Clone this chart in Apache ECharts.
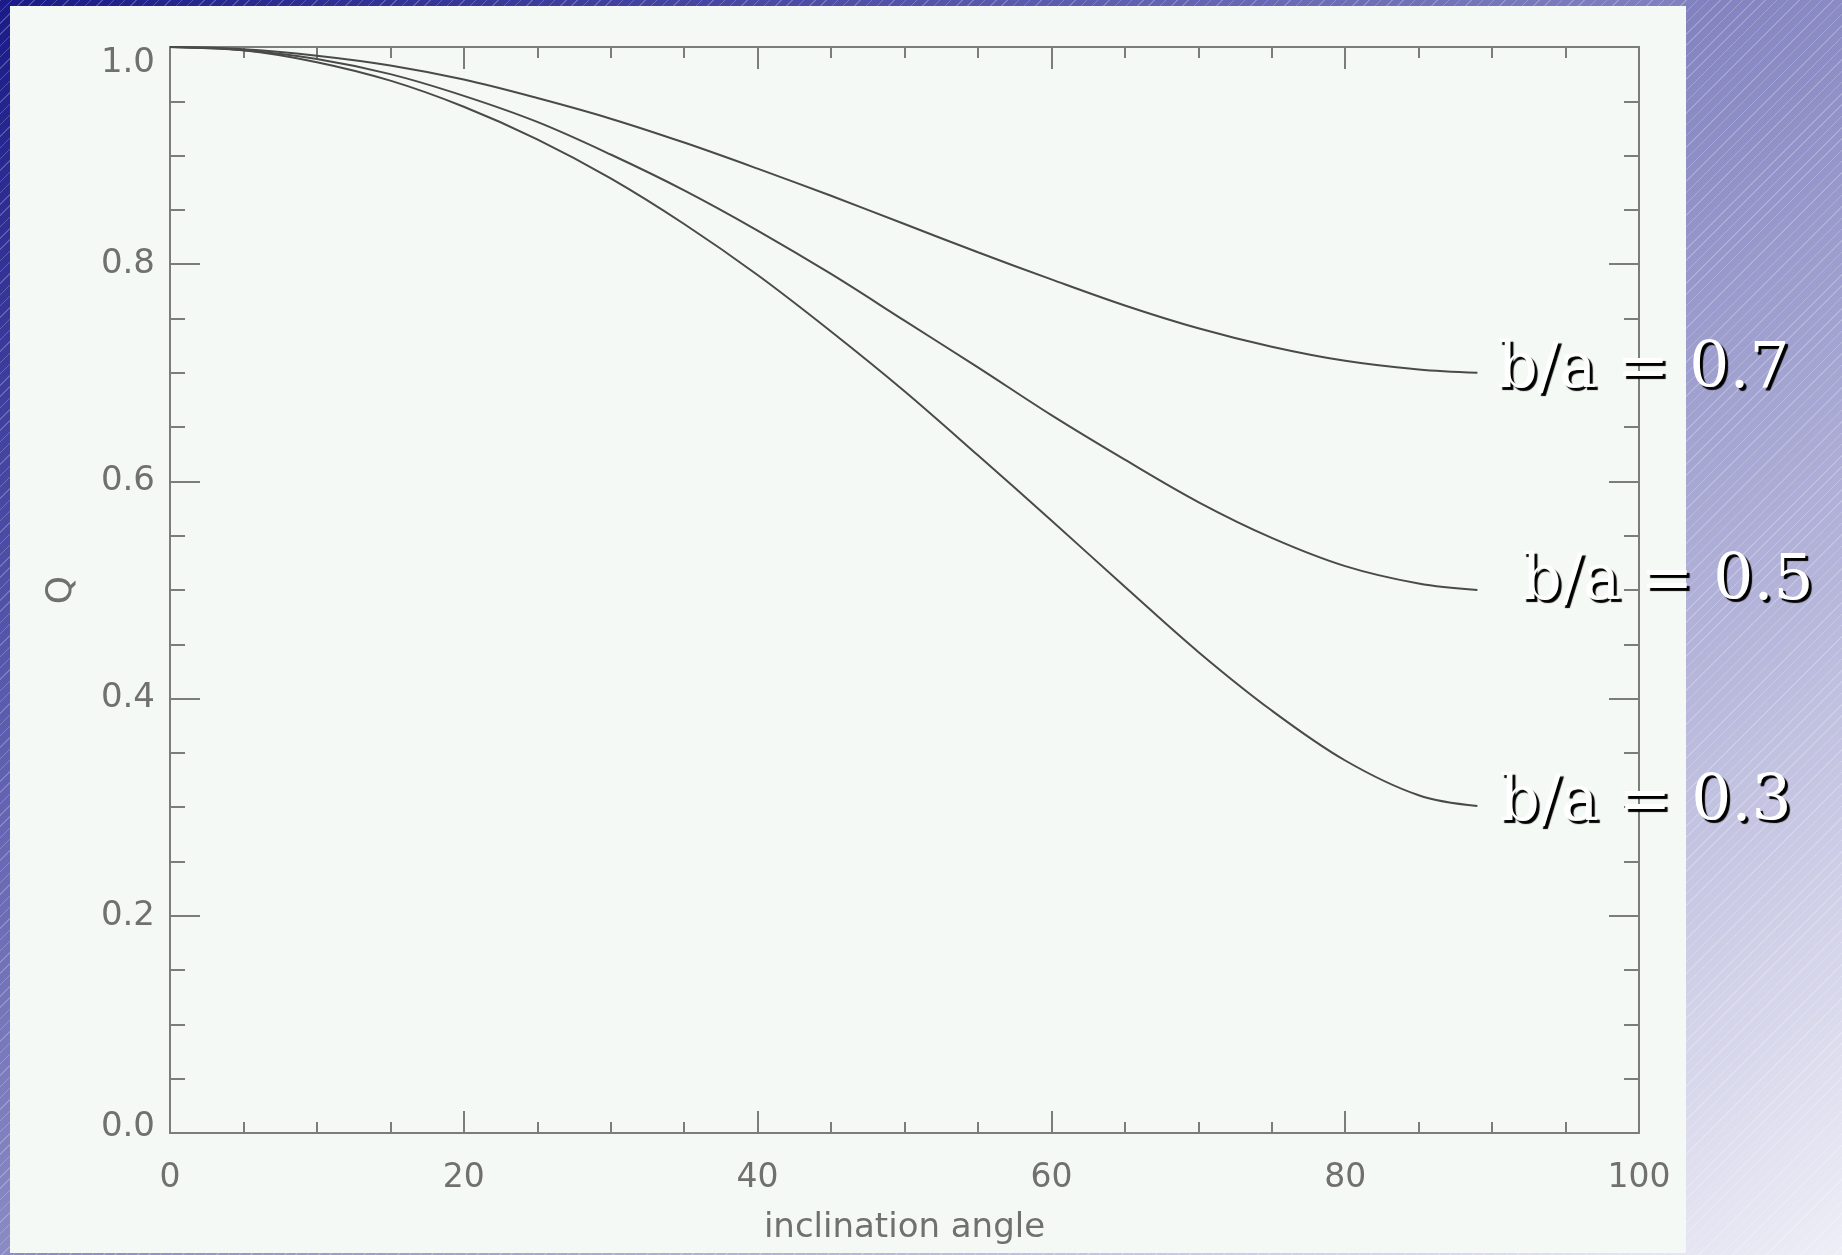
<!DOCTYPE html>
<html>
<head>
<meta charset="utf-8">
<script src="https://cdn.jsdelivr.net/npm/echarts@6/dist/echarts.min.js"></script>
<style>
  html, body { margin: 0; padding: 0; width: 1842px; height: 1255px; overflow: hidden; }
  body {
    background:
      repeating-linear-gradient(135deg, rgba(255,255,255,0.22) 0px, rgba(255,255,255,0.22) 1px, rgba(255,255,255,0) 1px, rgba(255,255,255,0) 8px),
      linear-gradient(to bottom right, #1a1a88 0%, #5a5aae 28%, #8a8ac4 50%, #b4b4da 72%, #eeeef7 100%);
  }
  #panel { position: absolute; left: 10px; top: 6px; width: 1676px; height: 1247px; background: #f4f9f6; }
  #chart { position: absolute; left: 0; top: 0; width: 1842px; height: 1255px; }
</style>
</head>
<body>
<div id="panel"></div>
<div id="chart"></div>
<script>
// inclination angle (degrees)
const angles = [0, 5, 10, 15, 20, 25, 30, 35, 40, 45, 50, 55, 60, 65, 70, 75, 80, 85, 89];
// Q values
const q07 = [1.000, 0.998, 0.992, 0.983, 0.970, 0.953, 0.934, 0.912, 0.888, 0.863, 0.837, 0.811, 0.786, 0.762, 0.741, 0.724, 0.711, 0.703, 0.700];
const q05 = [1.000, 0.997, 0.989, 0.975, 0.955, 0.931, 0.901, 0.868, 0.831, 0.791, 0.748, 0.705, 0.661, 0.620, 0.581, 0.548, 0.522, 0.506, 0.500];
const q03 = [1.000, 0.997, 0.986, 0.969, 0.945, 0.915, 0.879, 0.837, 0.790, 0.738, 0.683, 0.624, 0.564, 0.503, 0.443, 0.389, 0.343, 0.311, 0.301];
const curveLabels = ['b/a = 0.7', 'b/a = 0.5', 'b/a = 0.3'];
const xTicks = { min: 0, max: 100, interval: 20 };
const yTicks = { min: 0, max: 1, interval: 0.2 };
const xTitle = 'inclination angle';
const yTitle = 'Q';

const axisColor = '#7c7c7c';
const labelColor = '#707070';
const tickFont = "'DejaVu Sans', sans-serif";

function xAxisDef(pos, showLabels) {
  return {
    type: 'value', position: pos, min: xTicks.min, max: xTicks.max, interval: xTicks.interval,
    axisLine: { show: true, onZero: false, lineStyle: { color: axisColor, width: 2 } },
    axisTick: { show: true, inside: true, length: 22, lineStyle: { color: axisColor, width: 2 } },
    minorTick: { show: true, splitNumber: 4, length: 11, lineStyle: { color: axisColor, width: 2 } },
    splitLine: { show: false },
    axisLabel: { show: showLabels, color: labelColor, fontFamily: tickFont, fontSize: 33, margin: 29 },
    name: showLabels ? xTitle : '',
    nameLocation: 'middle', nameGap: 78,
    nameTextStyle: { color: labelColor, fontFamily: tickFont, fontSize: 34 }
  };
}
function yAxisDef(pos, showLabels) {
  return {
    type: 'value', position: pos, min: yTicks.min, max: yTicks.max, interval: yTicks.interval,
    axisLine: { show: true, onZero: false, lineStyle: { color: axisColor, width: 2 } },
    axisTick: { show: true, inside: true, length: 30, lineStyle: { color: axisColor, width: 2 } },
    minorTick: { show: true, splitNumber: 4, length: 15, lineStyle: { color: axisColor, width: 2 } },
    splitLine: { show: false },
    axisLabel: {
      show: showLabels, color: labelColor, fontFamily: tickFont, fontSize: 34, margin: 15,
      formatter: function (v) {
        const s = v.toFixed(1);
        if (v >= 1) return '{hi|' + s + '}';
        if (v <= 0) return '{lo|' + s + '}';
        return s;
      },
      rich: {
        hi: { color: labelColor, fontFamily: tickFont, fontSize: 34, padding: [32, 0, 0, 0] },
        lo: { color: labelColor, fontFamily: tickFont, fontSize: 34, padding: [0, 0, 12, 0] }
      }
    },
    name: showLabels ? yTitle : '',
    nameLocation: 'middle', nameGap: 90, nameRotate: 90,
    nameTextStyle: { color: labelColor, fontFamily: tickFont, fontSize: 36 }
  };
}

function makeSeries(values, label, offsetY, dist) {
  return {
    type: 'line', xAxisIndex: 0, yAxisIndex: 0,
    data: angles.map((a, i) => [a, values[i]]),
    smooth: 0.35, showSymbol: false, symbol: 'none',
    lineStyle: { color: '#4a4a4a', width: 2 },
    endLabel: {
      show: true, formatter: label, distance: dist, offset: [0, offsetY],
      fontFamily: "'DejaVu Serif', serif", fontSize: 63, color: '#ffffff',
      textShadowColor: '#000000', textShadowOffsetX: 3, textShadowOffsetY: 3, textShadowBlur: 1
    }
  };
}

const chart = echarts.init(document.getElementById('chart'), null, { renderer: 'canvas' });
chart.setOption({
  animation: false,
  backgroundColor: 'transparent',
  grid: { left: 170, top: 47, width: 1469, height: 1086, containLabel: false },
  xAxis: [xAxisDef('bottom', true), xAxisDef('top', false)],
  yAxis: [yAxisDef('left', true), yAxisDef('right', false)],
  series: [
    makeSeries(q07, curveLabels[0], -2, 20),
    makeSeries(q05, curveLabels[1], -7, 44),
    makeSeries(q03, curveLabels[2], -2, 22)
  ]
});
</script>
</body>
</html>
